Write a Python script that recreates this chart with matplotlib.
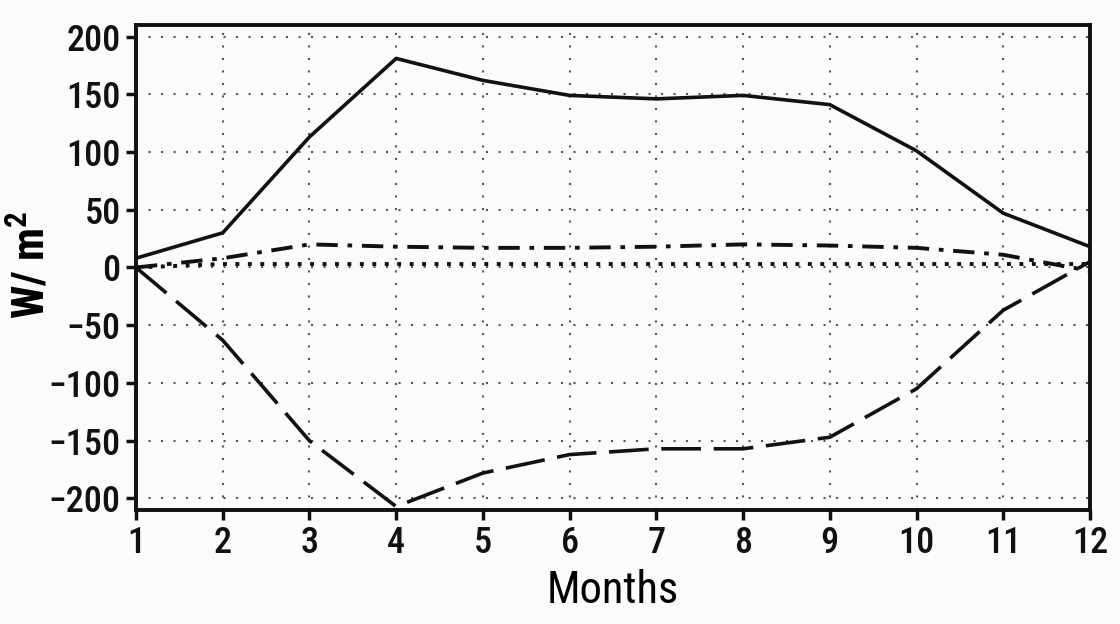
import matplotlib
matplotlib.use("Agg")
import matplotlib.pyplot as plt
import numpy as np

months = [1, 2, 3, 4, 5, 6, 7, 8, 9, 10, 11, 12]
solid = [8, 30, 113, 181, 162, 149, 146, 149, 141, 101, 47, 18]
dashdot = [0, 8, 20, 18, 17, 17, 18, 20, 19, 17, 11, -3]
dotted = [0, 3, 3, 3, 3, 3, 3, 3, 3, 3, 3, 3]
dashed = [0, -63, -150, -207, -178, -162, -157, -157, -147, -105, -37, 5]
yticks = [-200, -150, -100, -50, 0, 50, 100, 150, 200]

plt.rcParams['font.family'] = ['Roboto Condensed', 'DejaVu Sans']
plt.rcParams['mathtext.fontset'] = 'custom'
plt.rcParams['mathtext.rm'] = 'Roboto Condensed'
plt.rcParams['mathtext.bf'] = 'Roboto Condensed:bold'

fig = plt.figure(figsize=(11.2, 6.24), dpi=100, facecolor='#fbfbf9')
ax = fig.add_axes([0.1214, 0.1827, 0.8518, 0.7773])
ax.set_facecolor('#fbfbf9')

ax.plot(months, solid, color='#111111', lw=2.6, linestyle='-')
ax.plot(months, dashdot, color='#111111', lw=2.8, linestyle=(0, (5.5, 2.5, 1.2, 2.5)))
ax.plot(months, dotted, color='#111111', lw=2.8, linestyle=(0, (1, 2.2)))
ax.plot(months, dashed, color='#111111', lw=2.6, linestyle=(0, (11, 3.5)))

ax.set_xlim(1, 12)
ax.set_ylim(-210, 210)
ax.set_xticks(months)
ax.set_yticks(yticks)
ax.set_xticklabels([str(m) for m in months], fontsize=26, fontweight='medium')
ax.set_yticklabels([str(v).replace('-', '\u2212') for v in yticks], fontsize=26, fontweight='medium')
ax.grid(True, color='#555555', linestyle=(0, (1, 5)), lw=1.5)
ax.tick_params(direction='out', length=7, width=2.5, pad=4, colors='#111111')
for s in ax.spines.values():
    s.set_linewidth(2.8)
    s.set_color('#111111')

ax.set_xlabel('Months', fontsize=32, fontweight='normal', labelpad=6)
ax.set_ylabel('W/ m$^{\\mathbf{2}}$', fontsize=32, fontweight='bold')
ax.yaxis.set_label_coords(-0.086, 0.505)

fig.savefig('out.png', dpi=100, facecolor=fig.get_facecolor())
